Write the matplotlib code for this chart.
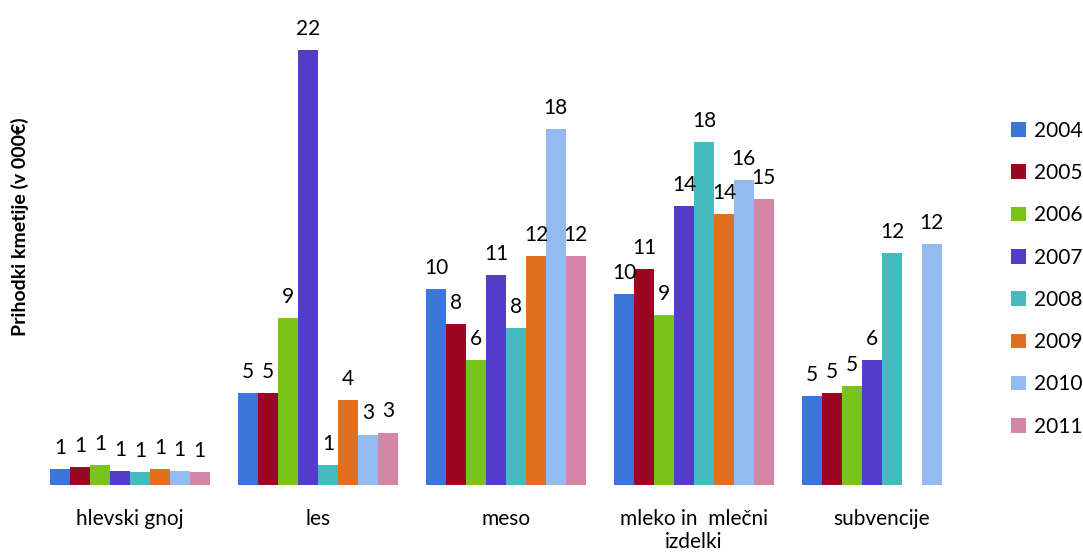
import matplotlib
matplotlib.use("Agg")
import matplotlib.pyplot as plt
import numpy as np

plt.rcParams['font.family'] = ['Lato', 'DejaVu Sans']

categories = ['hlevski gnoj', 'les', 'meso', 'mleko in  mlečni\nizdelki', 'subvencije']
years = ['2004', '2005', '2006', '2007', '2008', '2009', '2010', '2011']

# income per year, in 000 EUR (None = no bar)
v2004 = [0.82, 4.75, 10.1, 9.83, 4.59]
v2005 = [0.94, 4.75, 8.3, 11.13, 4.76]
v2006 = [1.03, 8.6, 6.44, 8.76, 5.12]
v2007 = [0.74, 22.4, 10.8, 14.4, 6.43]
v2008 = [0.65, 1.03, 8.1, 17.7, 11.97]
v2009 = [0.82, 4.38, 11.8, 13.95, None]
v2010 = [0.74, 2.6, 18.35, 15.7, 12.4]
v2011 = [0.65, 2.7, 11.8, 14.75, None]

series = [v2004, v2005, v2006, v2007, v2008, v2009, v2010, v2011]
colors = ['#3a76d9', '#9b0620', '#7ac41a', '#543dc9',
          '#44bcbf', '#e07020', '#93bbf0', '#d486a6']

fig = plt.figure(figsize=(10.83, 5.52), dpi=100)
ax = fig.add_axes([40/1083, 0.1214, (975-40)/1083, 0.8083])

x = np.arange(len(categories))
w = 0.106
for i, (vals, col, yr) in enumerate(zip(series, colors, years)):
    pos = x + (i - 3.5) * w
    h = [v if v is not None else 0 for v in vals]
    ax.bar(pos, h, w, color=col, label=yr, edgecolor='none')
    for p, v in zip(pos, vals):
        if v is None:
            continue
        ax.annotate('%d' % round(v), (p, v), xytext=(0, 8), textcoords='offset points',
                    ha='center', va='bottom', fontsize=15)

ax.set_xlim((40-130)/188, (975-130)/188)
ax.set_ylim(0, 23)
ax.set_xticks(x)
ax.set_xticklabels(categories, fontsize=15, linespacing=1.2, va='top')
ax.tick_params(axis='x', length=0, pad=17)
ax.set_yticks([])
for s in ax.spines.values():
    s.set_visible(False)

fig.text(20/1083, 0.59, 'Prihodki kmetije (v 000€)', rotation=90, fontsize=14,
         fontweight='bold', ha='center', va='center')

fig.legend(loc='center left', bbox_to_anchor=(1003/1083, 0.495), frameon=False,
           fontsize=15, handlelength=0.7, handleheight=0.7, handletextpad=0.4,
           labelspacing=1.07, borderaxespad=0)

fig.savefig('out.png', dpi=100)
